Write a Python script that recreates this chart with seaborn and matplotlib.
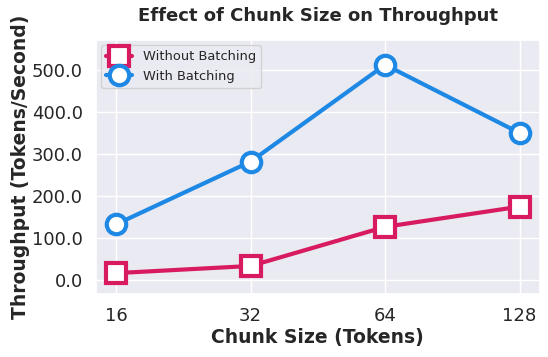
import numpy as np
import pandas as pd
import matplotlib
matplotlib.use("Agg")
import matplotlib.pyplot as plt
import seaborn as sns
from matplotlib.ticker import FormatStrFormatter

chunk_sizes = [16, 32, 64, 128]
without_batching = [17, 34, 127, 175]
with_batching = [133, 282, 512, 350]

sns.set_theme(style="darkgrid")
plt.rcParams['font.family'] = ['DejaVu Sans']

df = pd.DataFrame({
    "Chunk Size": chunk_sizes * 2,
    "Throughput": without_batching + with_batching,
    "Mode": ["Without Batching"] * 4 + ["With Batching"] * 4,
})

fig, ax = plt.subplots(figsize=(5.48, 3.57), dpi=100)
styles = {
    "Without Batching": ("#D81B60", "s"),
    "With Batching": ("#1E88E5", "o"),
}
for mode, (color, marker) in styles.items():
    sub = df[df["Mode"] == mode]
    ax.plot(sub["Chunk Size"], sub["Throughput"], color=color, marker=marker,
            linewidth=3, markersize=14, markerfacecolor="white",
            markeredgewidth=3, markeredgecolor=color, label=mode)

ax.set_xscale("log", base=2)
ax.set_xticks(chunk_sizes)
ax.set_xticklabels([str(c) for c in chunk_sizes])
ax.minorticks_off()
ax.set_ylim(-33, 571)
ax.yaxis.set_major_formatter(FormatStrFormatter("%.1f"))
ax.tick_params(labelsize=13)

ax.set_title("Effect of Chunk Size on Throughput", fontsize=13, fontweight="bold", pad=14)
ax.set_xlabel("Chunk Size (Tokens)", fontsize=13.5, fontweight="bold", labelpad=2)
ax.set_ylabel("Throughput (Tokens/Second)", fontsize=13.5, fontweight="bold", labelpad=1)
ax.legend(loc="upper left", fontsize=9.4, borderaxespad=0.4, handlelength=2)

fig.subplots_adjust(left=0.175, right=0.985, top=0.888, bottom=0.176)
plt.savefig("out.png", dpi=100)
